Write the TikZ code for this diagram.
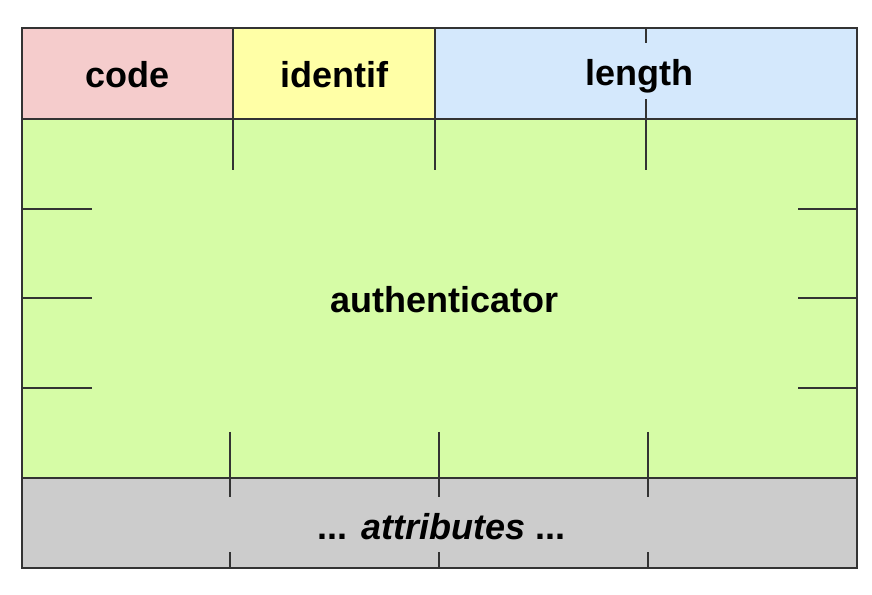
\documentclass[tikz,border=0pt]{standalone}
\usepackage{fontspec}
\setmainfont{Liberation Sans}
\usetikzlibrary{positioning, calc}
\definecolor{pktpink}{HTML}{F5CCCC}
\definecolor{pktyellow}{HTML}{FFFFA6}
\definecolor{pktblue}{HTML}{D4E8FC}
\definecolor{pktgreen}{HTML}{D6FCA6}
\definecolor{pktgray}{HTML}{CCCCCC}
\definecolor{pktedge}{HTML}{333333}

\begin{document}
\begin{tikzpicture}[x=1pt, y=1pt,
          field/.style={draw=pktedge, line width=1.3pt, outer sep=0pt, inner sep=0pt, minimum height=91pt, text height=26pt, text depth=7pt, font=\fontsize{36}{40}\selectfont\bfseries},
          tick/.style={line width=2pt, pktedge}]
        \useasboundingbox (0,0) rectangle (872,594);
        % header row
        \node[field, fill=pktpink, minimum width=211pt] (code) at (127.5,520.5) {\raisebox{-4.5pt}{code}};
        \node[field, fill=pktyellow, minimum width=202pt, right=0pt of code] (identif) {\raisebox{-4.5pt}{identif}};
        \node[field, fill=pktblue, minimum width=422pt, right=0pt of identif] (length) {\raisebox{-2.5pt}{length}\hspace*{14pt}};
        % body
        \node[field, fill=pktgreen, minimum width=835pt, minimum height=359pt, below=0pt of code.south west, anchor=north west] (auth) {\hspace*{10pt}\raisebox{-5pt}{authenticator}};
        \node[field, fill=pktgray, minimum width=835pt, minimum height=90pt, below=0pt of auth] (attr) {\hspace*{4pt}\raisebox{-7pt}{... \textit{attributes} ...}};
        % 8-bit ticks
        \draw[tick] ($(length.north west)+(211,0)$) -- ++(0,-15);
        \draw[tick] ($(length.south west)+(211,0)$) -- ++(0,20);
        \foreach \x in {211,413,624}
          \draw[tick] ($(auth.north west)+(\x,0)$) -- ++(0,-51);
        \foreach \x in {208,417,626} {
          \draw[tick] ($(auth.south west)+(\x,46)$) -- ++(0,-65);
          \draw[tick] ($(attr.south west)+(\x,0)$) -- ++(0,16);
        }
        \foreach \y in {90,180,269} {
          \draw[tick] ($(auth.south west)+(0,\y)$) -- ++(70,0);
          \draw[tick] ($(auth.south east)+(0,\y)$) -- ++(-59,0);
        }
      \end{tikzpicture}
\end{document}
